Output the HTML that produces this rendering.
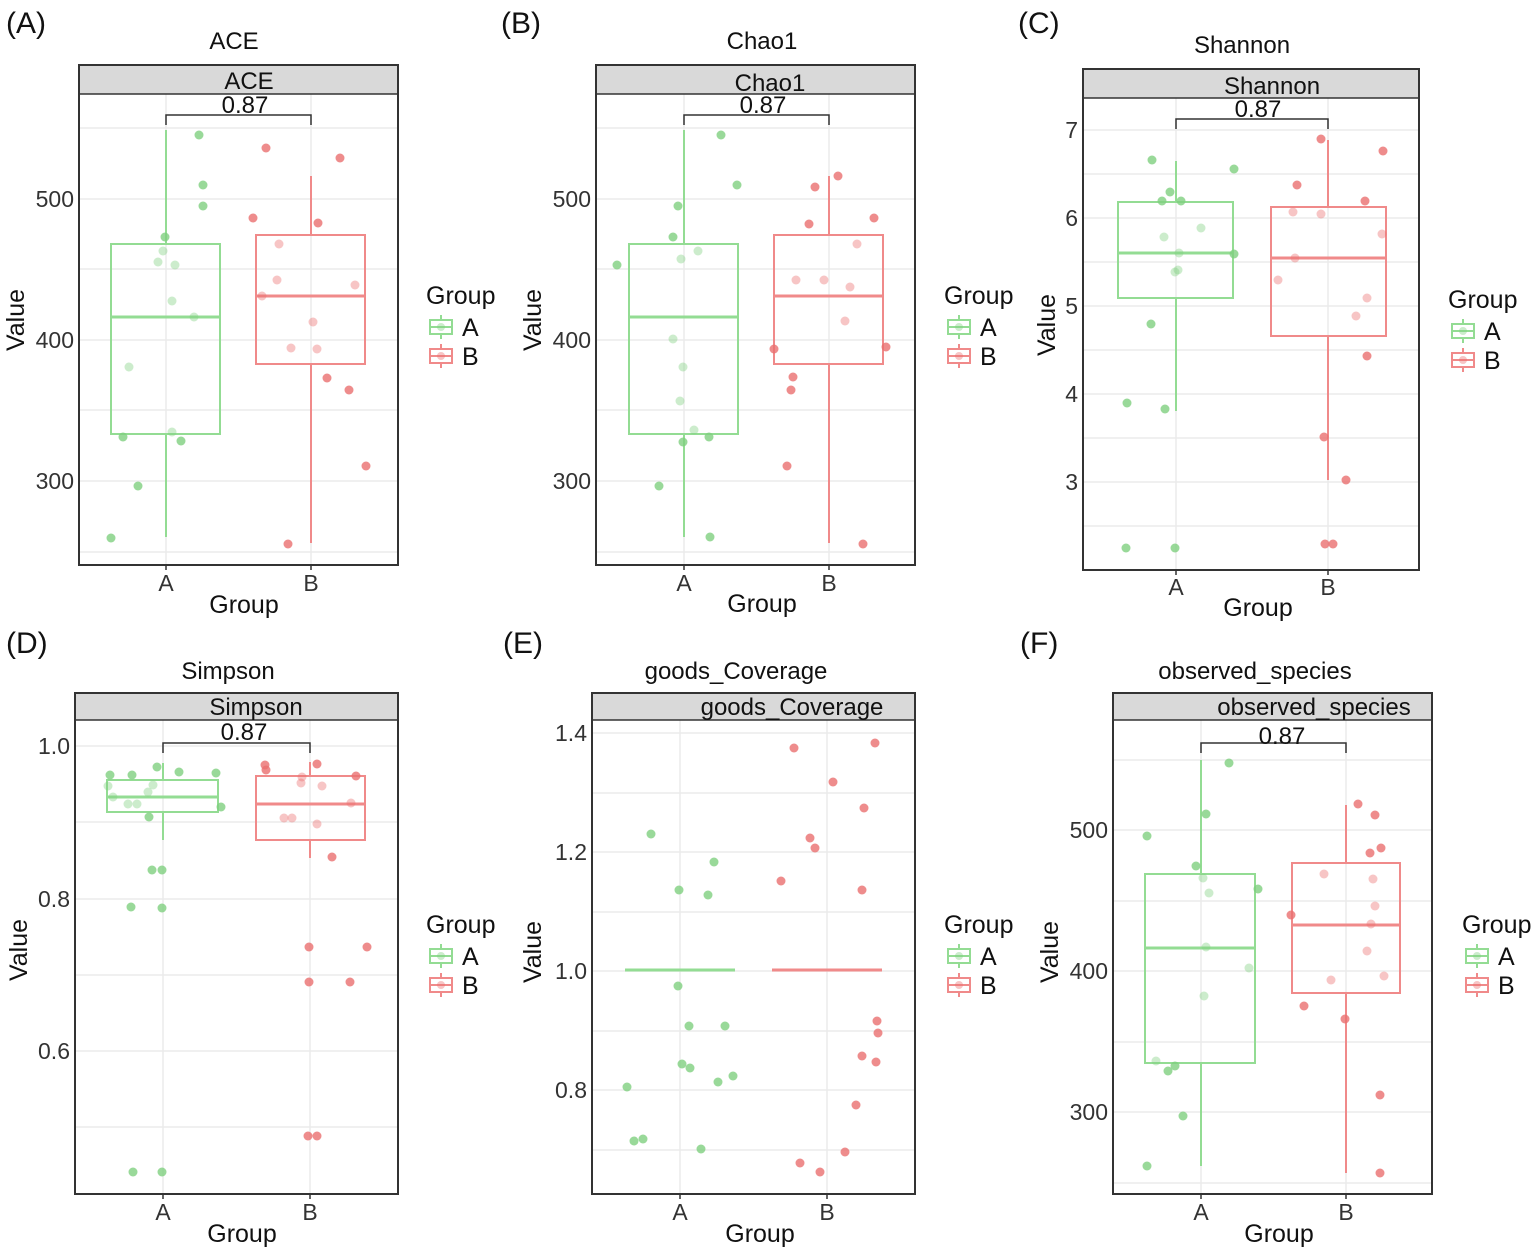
<!DOCTYPE html>
<html><head><meta charset="utf-8"><style>
body{margin:0;background:#fff}
svg{display:block;font-family:"Liberation Sans",sans-serif}
</style></head><body>
<svg id="s" width="1535" height="1251" viewBox="0 0 1535 1251" xmlns="http://www.w3.org/2000/svg">
<rect width="1535" height="1251" fill="#fff"/>
<g id="grid"></g>
<g id="shapes"></g>
<g font-size="30" fill="#111">
<text x="6" y="33">(A)</text><text x="501" y="33">(B)</text><text x="1018" y="33">(C)</text>
<text x="6" y="653">(D)</text><text x="503" y="653">(E)</text><text x="1020" y="653">(F)</text>
</g>
<g font-size="24" fill="#111" text-anchor="middle">
<text x="234" y="49">ACE</text><text x="762" y="49">Chao1</text><text x="1242" y="53">Shannon</text>
<text x="228" y="679">Simpson</text><text x="736" y="679">goods_Coverage</text><text x="1255" y="679">observed_species</text>
<text x="249" y="89">ACE</text><text x="770" y="91">Chao1</text><text x="1272" y="94">Shannon</text>
<text x="256" y="715">Simpson</text><text x="792" y="715">goods_Coverage</text><text x="1314" y="715">observed_species</text>
<text x="245" y="113">0.87</text><text x="763" y="113">0.87</text><text x="1258" y="117">0.87</text>
<text x="244" y="740">0.87</text><text x="1282" y="744">0.87</text>
</g>
<g font-size="23" fill="#333" text-anchor="end">
<text x="74" y="207">500</text><text x="74" y="348">400</text><text x="74" y="489">300</text>
<text x="591" y="207">500</text><text x="591" y="348">400</text><text x="591" y="489">300</text>
<text x="1078" y="138">7</text><text x="1078" y="226">6</text><text x="1078" y="314">5</text><text x="1078" y="402">4</text><text x="1078" y="490">3</text>
<text x="70" y="754">1.0</text><text x="70" y="907">0.8</text><text x="70" y="1059">0.6</text>
<text x="587" y="741">1.4</text><text x="587" y="860">1.2</text><text x="587" y="979">1.0</text><text x="587" y="1098">0.8</text>
<text x="1108" y="838">500</text><text x="1108" y="979">400</text><text x="1108" y="1120">300</text>
</g>
<g font-size="23" fill="#333" text-anchor="middle">
<text x="166" y="591">A</text><text x="311" y="591">B</text>
<text x="684" y="591">A</text><text x="829" y="591">B</text>
<text x="1176" y="595">A</text><text x="1328" y="595">B</text>
<text x="163" y="1220">A</text><text x="310" y="1220">B</text>
<text x="680" y="1220">A</text><text x="827" y="1220">B</text>
<text x="1201" y="1220">A</text><text x="1346" y="1220">B</text>
</g>
<g font-size="25" fill="#111" text-anchor="middle">
<text x="244" y="613">Group</text><text x="762" y="612">Group</text><text x="1258" y="616">Group</text>
<text x="242" y="1242">Group</text><text x="760" y="1242">Group</text><text x="1279" y="1242">Group</text>
<text transform="translate(24,320) rotate(-90)">Value</text>
<text transform="translate(541,320) rotate(-90)">Value</text>
<text transform="translate(1055,325) rotate(-90)">Value</text>
<text transform="translate(27,950) rotate(-90)">Value</text>
<text transform="translate(541,952) rotate(-90)">Value</text>
<text transform="translate(1058,952) rotate(-90)">Value</text>
</g>
<g font-size="25" fill="#111">
<text x="426" y="304">Group</text><text x="462" y="336">A</text><text x="462" y="365">B</text>
<text x="944" y="304">Group</text><text x="980" y="336">A</text><text x="980" y="365">B</text>
<text x="1448" y="308">Group</text><text x="1484" y="340">A</text><text x="1484" y="369">B</text>
<text x="426" y="933">Group</text><text x="462" y="965">A</text><text x="462" y="994">B</text>
<text x="944" y="933">Group</text><text x="980" y="965">A</text><text x="980" y="994">B</text>
<text x="1462" y="933">Group</text><text x="1498" y="965">A</text><text x="1498" y="994">B</text>
</g>
</svg>
<script>
var NS="http://www.w3.org/2000/svg";
var G=document.getElementById('grid'),S=document.getElementById('shapes');
function el(p,t,a){var e=document.createElementNS(NS,t);for(var k in a)e.setAttribute(k,a[k]);p.appendChild(e);return e;}
var GC='#93dc93',RC='#f08a8a',GP='#7fcf7f',RP='#ea6f6f';
var P=[
{f:[79,65,398,565],st:94,ticks:[128,199,269,340,410,481,552],xs:[166,311],br:115,
 bx:[[111,220,244,434,317,130,537],[256,365,235,364,296,176,543]],
 g:[[199,135],[203,185],[203,206],[165,237],[163,251],[158,262],[175,265],[194,317],[172,301],[129,367],[123,437],[172,432],[181,441],[138,486],[111,538]],
 r:[[266,148],[253,218],[340,158],[318,223],[279,244],[277,280],[355,285],[262,296],[313,322],[291,348],[317,349],[327,378],[349,390],[366,466],[288,544]],leg:[430,327]},
{f:[596,65,915,565],st:94,ticks:[128,199,269,340,410,481,552],xs:[684,829],br:115,
 bx:[[629,738,244,434,317,130,537],[774,883,235,364,296,176,543]],
 g:[[721,135],[737,185],[678,206],[673,237],[698,251],[681,259],[617,265],[673,339],[683,367],[680,401],[694,430],[709,437],[683,442],[659,486],[710,537]],
 r:[[838,176],[815,187],[809,224],[874,218],[857,244],[796,280],[824,280],[850,287],[845,321],[886,347],[774,349],[793,377],[791,390],[787,466],[863,544]],leg:[948,327]},
{f:[1083,69,1419,570],st:98,ticks:[130,174,218,262,306,350,394,438,482,526],xs:[1176,1328],br:119,
 bx:[[1118,1233,202,298,253,161,411],[1271,1386,207,336,258,140,480]],
 g:[[1152,160],[1234,169],[1170,192],[1162,201],[1181,201],[1201,228],[1164,237],[1179,253],[1234,254],[1178,270],[1175,272],[1151,324],[1127,403],[1165,409],[1126,548],[1175,548]],
 r:[[1321,139],[1383,151],[1297,185],[1293,212],[1321,214],[1365,201],[1382,234],[1295,258],[1278,280],[1367,298],[1356,316],[1367,356],[1324,437],[1346,480],[1325,544],[1333,544]],leg:[1452,331]},
{f:[75,693,398,1194],st:720,ticks:[746,822,899,975,1051,1127],xs:[163,310],br:743,
 bx:[[107,218,780,812,797,763,840],[256,365,776,840,804,762,858]],
 g:[[108,786],[110,775],[113,797],[128,804],[137,804],[132,775],[148,792],[153,785],[157,767],[179,772],[216,773],[221,807],[149,817],[152,870],[162,870],[131,907],[162,908],[133,1172],[162,1172]],
 r:[[265,765],[266,770],[302,777],[301,783],[317,764],[322,786],[356,776],[351,803],[284,818],[292,818],[317,824],[332,857],[309,947],[367,947],[309,982],[350,982],[308,1136],[317,1136]],leg:[430,956]},
{f:[592,693,915,1194],st:720,ticks:[733,793,852,912,971,1031,1090,1150],xs:[680,827],br:null,
 bx:[[625,735,970,970,970,970,970],[772,882,970,970,970,970,970]],
 g:[[651,834],[679,890],[714,862],[708,895],[678,986],[689,1026],[725,1026],[682,1064],[690,1068],[718,1082],[733,1076],[627,1087],[634,1141],[643,1139],[701,1149]],
 r:[[794,748],[875,743],[833,782],[864,808],[810,838],[815,848],[781,881],[862,890],[877,1021],[878,1033],[862,1056],[876,1062],[856,1105],[845,1152],[800,1163],[820,1172]],leg:[948,956]},
{f:[1113,693,1432,1194],st:720,ticks:[760,830,901,971,1042,1112,1183],xs:[1201,1346],br:743,
 bx:[[1145,1255,874,1063,948,760,1166],[1292,1400,863,993,925,805,1173]],
 g:[[1229,763],[1147,836],[1206,814],[1196,866],[1203,878],[1209,893],[1258,889],[1206,947],[1249,968],[1204,996],[1156,1061],[1168,1071],[1175,1066],[1183,1116],[1147,1166]],
 r:[[1358,804],[1375,815],[1381,848],[1370,853],[1324,874],[1373,879],[1375,906],[1291,915],[1371,924],[1367,951],[1331,980],[1384,976],[1304,1006],[1345,1019],[1380,1095],[1380,1173]],leg:[1466,956]}
];
P.forEach(function(p){
 var f=p.f;
 p.ticks.forEach(function(y){el(G,'line',{x1:f[0],x2:f[2],y1:y,y2:y,stroke:'#ebebeb','stroke-width':1.5});});
 p.xs.forEach(function(x){el(G,'line',{x1:x,x2:x,y1:p.st,y2:f[3],stroke:'#ebebeb','stroke-width':1.5});});
 [[p.bx[0],GC],[p.bx[1],RC]].forEach(function(q,i){
  var b=q[0],c=q[1],xc=p.xs[i];
  if(b[2]==b[3]){el(S,'line',{x1:b[0],x2:b[1],y1:b[4],y2:b[4],stroke:c,'stroke-width':3});return;}
  el(S,'line',{x1:xc,x2:xc,y1:b[5],y2:b[2],stroke:c,'stroke-width':2});
  el(S,'line',{x1:xc,x2:xc,y1:b[3],y2:b[6],stroke:c,'stroke-width':2});
  el(S,'rect',{x:b[0],y:b[2],width:b[1]-b[0],height:b[3]-b[2],fill:'none',stroke:c,'stroke-width':2});
  el(S,'line',{x1:b[0],x2:b[1],y1:b[4],y2:b[4],stroke:c,'stroke-width':3});
 });
 [[p.g,GP,p.bx[0]],[p.r,RP,p.bx[1]]].forEach(function(q){
  q[0].forEach(function(pt){
   var b=q[2],inside=b[2]!=b[3]&&pt[0]>b[0]&&pt[0]<b[1]&&pt[1]>b[2]&&pt[1]<b[3];
   el(S,'circle',{cx:pt[0],cy:pt[1],r:4.5,fill:q[1],'fill-opacity':inside?0.4:0.8});
  });
 });
 if(p.br){el(S,'path',{d:'M'+p.xs[0]+' '+(p.br+10)+'V'+p.br+'H'+p.xs[1]+'V'+(p.br+10),fill:'none',stroke:'#333','stroke-width':1.5});}
 el(S,'rect',{x:f[0],y:f[1],width:f[2]-f[0],height:p.st-f[1],fill:'#d9d9d9',stroke:'#333','stroke-width':1.5});
 el(S,'rect',{x:f[0],y:f[1],width:f[2]-f[0],height:f[3]-f[1],fill:'none',stroke:'#333','stroke-width':2});
 p.xs.forEach(function(x){el(S,'line',{x1:x,x2:x,y1:f[3],y2:f[3]+5,stroke:'#333','stroke-width':1.5});});
 var L=p.leg;
 [[GC,GP,0],[RC,RP,29]].forEach(function(q){
  var y=L[1]+q[2];
  el(S,'line',{x1:L[0]+11,x2:L[0]+11,y1:y-12,y2:y+12,stroke:q[0],'stroke-width':2});
  el(S,'rect',{x:L[0],y:y-7,width:22,height:14,fill:'#fff',stroke:q[0],'stroke-width':2});
  el(S,'line',{x1:L[0],x2:L[0]+22,y1:y,y2:y,stroke:q[0],'stroke-width':2});
  el(S,'circle',{cx:L[0]+11,cy:y,r:4,fill:q[1],'fill-opacity':0.4});
 });
});
</script>
</body></html>
